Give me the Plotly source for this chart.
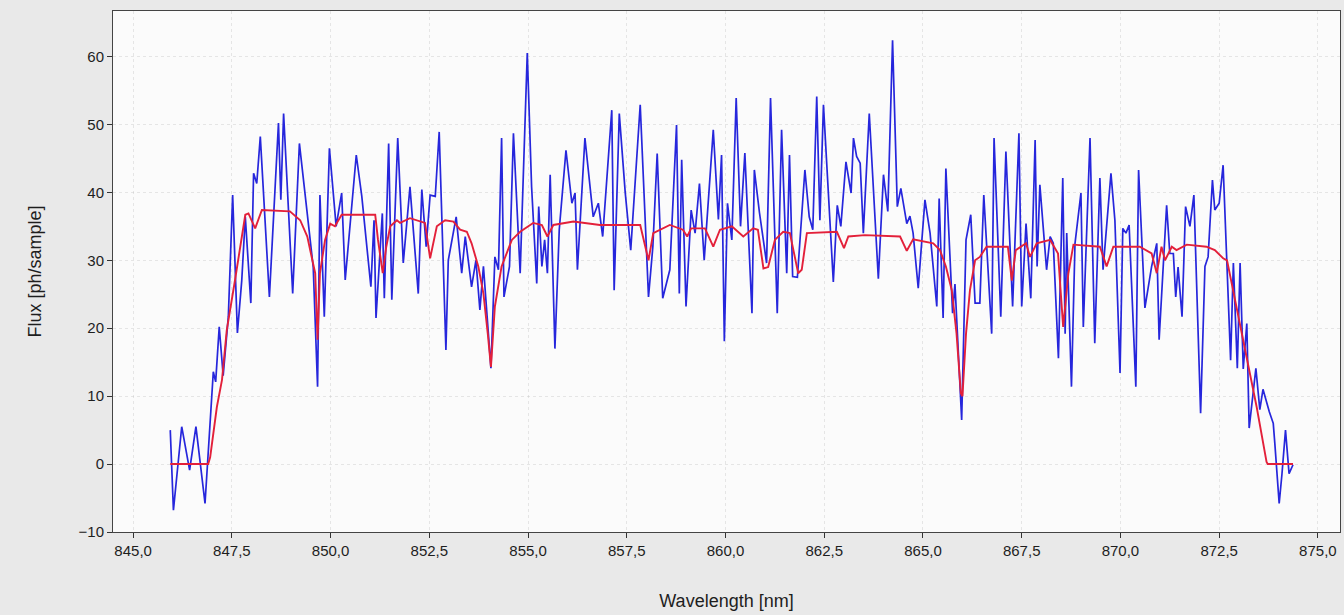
import plotly.graph_objects as go

# Observed spectrum (blue)
obs_wl = [845.94, 846.02, 846.23, 846.43, 846.59, 846.82, 847.03, 847.09, 847.18, 847.28,
          847.41, 847.52, 847.64, 847.75, 847.84, 847.98, 848.05, 848.13, 848.22, 848.45,
          848.68, 848.74, 848.81, 849.04, 849.21, 849.56, 849.67, 849.73, 849.84, 849.97,
          850.14, 850.28, 850.37, 850.65, 850.79, 851.02, 851.10, 851.15, 851.31, 851.36,
          851.47, 851.55, 851.70, 851.84, 852.01, 852.22, 852.31, 852.42, 852.52, 852.65,
          852.75, 852.92, 852.98, 853.18, 853.32, 853.41, 853.57, 853.68, 853.78, 853.87,
          854.06, 854.16, 854.25, 854.33, 854.39, 854.53, 854.63, 854.80, 854.98, 855.09,
          855.22, 855.27, 855.35, 855.42, 855.49, 855.56, 855.68, 855.79, 855.96, 856.11,
          856.19, 856.25, 856.44, 856.65, 856.78, 856.89, 857.12, 857.18, 857.31, 857.46,
          857.60, 857.84, 858.05, 858.16, 858.27, 858.41, 858.59, 858.76, 858.83, 858.89,
          859.00, 859.13, 859.23, 859.34, 859.46, 859.69, 859.82, 859.90, 859.97, 860.05,
          860.16, 860.27, 860.38, 860.49, 860.67, 860.73, 860.86, 861.04, 861.14, 861.31,
          861.42, 861.55, 861.62, 861.70, 861.82, 862.01, 862.12, 862.21, 862.31, 862.39,
          862.48, 862.73, 862.83, 862.92, 863.05, 863.18, 863.24, 863.32, 863.41, 863.49,
          863.64, 863.87, 864.00, 864.11, 864.23, 864.35, 864.44, 864.59, 864.67, 864.75,
          864.88, 865.05, 865.18, 865.35, 865.41, 865.51, 865.58, 865.75, 865.81, 865.98,
          866.09, 866.21, 866.32, 866.44, 866.54, 866.74, 866.80, 866.97, 867.10, 867.27,
          867.43, 867.50, 867.61, 867.73, 867.84, 867.89, 867.96, 868.13, 868.22, 868.30,
          868.43, 868.54, 868.60, 868.64, 868.76, 868.85, 869.00, 869.06, 869.23, 869.35,
          869.48, 869.56, 869.76, 869.86, 869.99, 870.06, 870.14, 870.22, 870.39, 870.46,
          870.62, 870.79, 870.92, 870.98, 871.17, 871.25, 871.34, 871.40, 871.46, 871.56,
          871.65, 871.76, 871.86, 872.03, 872.14, 872.22, 872.33, 872.39, 872.50, 872.60,
          872.79, 872.86, 872.96, 873.03, 873.11, 873.20, 873.26, 873.43, 873.53, 873.61,
          873.77, 873.87, 873.91, 874.02, 874.09, 874.18, 874.27, 874.37]
obs_flux = [5.0, -6.8, 5.5, -0.9, 5.5, -5.8, 13.6, 12.1, 20.2, 13.0,
            21.7, 39.6, 19.3, 27.0, 36.4, 23.7, 42.8, 41.3, 48.2, 24.6,
            50.2, 38.9, 51.6, 25.1, 47.2, 29.0, 11.4, 39.6, 21.7, 46.5,
            35.0, 39.9, 27.1, 45.5, 39.4, 26.1, 35.9, 21.5, 36.9, 24.4,
            47.2, 24.2, 48.0, 29.6, 40.8, 25.1, 40.4, 32.0, 39.6, 39.4,
            48.9, 16.8, 30.0, 36.4, 28.1, 33.5, 26.1, 30.0, 22.7, 29.1,
            14.1, 30.5, 28.6, 48.0, 24.6, 29.1, 48.7, 28.1, 60.5, 40.8,
            26.6, 37.9, 29.1, 33.0, 28.1, 42.6, 17.0, 34.5, 46.2, 38.4,
            39.9, 28.6, 48.0, 36.4, 38.4, 33.5, 52.1, 25.6, 51.6, 40.0,
            31.5, 52.9, 24.6, 32.0, 45.7, 24.4, 28.6, 49.9, 25.1, 44.8,
            23.2, 37.4, 34.0, 41.3, 30.0, 49.2, 36.0, 45.5, 18.1, 38.4,
            33.0, 53.9, 35.0, 45.8, 22.2, 43.3, 37.0, 29.6, 53.9, 22.2,
            49.2, 28.1, 45.5, 27.6, 27.5, 43.3, 36.4, 34.5, 54.1, 35.9,
            52.9, 26.8, 38.1, 35.0, 44.5, 39.9, 48.0, 45.3, 44.3, 34.0,
            51.6, 27.3, 42.6, 37.2, 62.4, 37.9, 40.6, 35.4, 36.5, 34.0,
            25.9, 38.9, 34.0, 23.2, 39.1, 21.5, 43.5, 22.2, 26.5, 6.5,
            33.0, 36.7, 23.7, 23.7, 39.6, 19.2, 48.0, 21.7, 46.0, 23.2,
            48.7, 23.2, 35.4, 24.4, 47.7, 29.1, 41.1, 28.6, 33.5, 32.5,
            15.6, 42.1, 19.2, 34.0, 11.4, 32.5, 39.9, 20.2, 48.0, 17.8,
            42.1, 28.6, 42.8, 35.9, 13.4, 34.7, 34.0, 35.2, 11.4, 43.3,
            23.0, 29.1, 32.5, 18.3, 38.1, 31.0, 31.0, 24.6, 29.0, 21.7,
            37.9, 35.0, 39.6, 7.5, 29.1, 30.5, 41.8, 37.4, 38.4, 44.0,
            15.3, 29.6, 14.1, 29.6, 14.0, 20.7, 5.3, 14.1, 8.0, 11.0,
            7.7, 6.0, 3.0, -5.8, -1.5, 5.0, -1.4, -0.1]

# Model spectrum (red)
mod_wl = [845.94, 846.90, 846.95, 847.12, 847.25, 847.37, 847.58, 847.84, 847.92, 848.09,
          848.26, 848.97, 849.23, 849.41, 849.52, 849.61, 849.67, 849.73, 849.86, 849.99,
          850.11, 850.28, 851.13, 851.20, 851.32, 851.41, 851.51, 851.68, 851.76, 852.01,
          852.39, 852.52, 852.69, 852.90, 853.11, 853.28, 853.45, 853.57, 853.74, 853.87,
          853.98, 854.06, 854.16, 854.33, 854.59, 854.80, 855.13, 855.35, 855.49, 855.64,
          856.15, 856.82, 857.84, 858.05, 858.17, 858.59, 858.92, 859.03, 859.13, 859.48,
          859.69, 859.86, 860.16, 860.45, 860.70, 860.82, 860.96, 861.08, 861.25, 861.46,
          861.63, 861.84, 861.93, 862.06, 862.82, 863.00, 863.11, 863.53, 864.42, 864.59,
          864.75, 865.26, 865.43, 865.58, 865.73, 865.85, 865.96, 866.00, 866.09, 866.19,
          866.32, 866.44, 866.61, 866.95, 867.15, 867.25, 867.35, 867.61, 867.71, 867.88,
          868.22, 868.42, 868.55, 868.68, 868.81, 869.48, 869.65, 869.82, 870.49, 870.79,
          870.92, 871.04, 871.13, 871.30, 871.42, 871.68, 872.18, 872.39, 872.60, 872.70,
          872.94, 873.20, 873.45, 873.70, 873.73, 874.37]
mod_flux = [0.0, 0.0, 1.0, 8.4, 12.4, 19.7, 27.1, 36.7, 36.9, 34.7,
            37.4, 37.2, 35.9, 33.5, 30.5, 28.1, 18.3, 28.1, 33.0, 35.4,
            35.0, 36.7, 36.7, 33.0, 28.1, 32.0, 35.0, 35.9, 35.5, 36.2,
            35.5, 30.3, 35.0, 35.9, 35.7, 34.5, 34.2, 32.5, 29.1, 25.1,
            19.2, 14.3, 23.2, 29.1, 33.0, 34.2, 35.5, 35.2, 33.5, 35.2,
            35.7, 35.2, 35.2, 30.0, 34.0, 35.2, 34.5, 33.5, 34.7, 34.7,
            32.0, 34.5, 35.0, 33.5, 34.7, 34.5, 28.8, 29.0, 33.0, 34.2,
            34.0, 28.1, 28.6, 34.0, 34.2, 31.8, 33.5, 33.7, 33.5, 31.4,
            33.1, 32.5, 31.5, 29.1, 25.6, 19.2, 10.4, 10.0, 19.2, 25.6,
            30.0, 30.5, 32.0, 32.0, 32.0, 27.0, 31.5, 32.5, 30.5, 32.5,
            33.0, 31.0, 20.2, 28.0, 32.3, 32.0, 29.1, 32.0, 32.0, 31.0,
            28.1, 32.0, 30.0, 32.0, 31.5, 32.3, 32.0, 31.5, 30.3, 30.0,
            23.2, 15.8, 8.4, 0.3, 0.0, 0.0]

x_ticks = [845.0, 847.5, 850.0, 852.5, 855.0, 857.5, 860.0, 862.5, 865.0, 867.5, 870.0, 872.5, 875.0]
y_ticks = [-10, 0, 10, 20, 30, 40, 50, 60]

fig = go.Figure()
fig.add_trace(go.Scatter(x=obs_wl, y=obs_flux, mode="lines",
                         line=dict(color="#2626dc", width=1.7), showlegend=False))
fig.add_trace(go.Scatter(x=mod_wl, y=mod_flux, mode="lines",
                         line=dict(color="#e3203a", width=1.9), showlegend=False))

axis_font = dict(family="Liberation Sans, Arial, sans-serif", size=15, color="#1e1e1e")
fig.update_layout(
    width=1344, height=615,
    margin=dict(l=113, r=4, t=11, b=83),
    paper_bgcolor="#e9e9e9",
    plot_bgcolor="#fbfbfb",
    separators=",.",
    font=axis_font,
    xaxis=dict(range=[844.49, 875.56], tickvals=x_ticks, tickformat=".1f",
               ticks="outside", ticklen=5, tickcolor="#333333",
               showline=True, linecolor="#444444", linewidth=1, mirror=True,
               showgrid=True, gridcolor="rgba(190,190,190,0.35)", griddash="dot",
               zeroline=False,
               title=dict(text="Wavelength [nm]", font=dict(size=18), standoff=36)),
    yaxis=dict(range=[-10, 66.7], tickvals=y_ticks,
               ticks="outside", ticklen=5, tickcolor="#333333",
               showline=True, linecolor="#444444", linewidth=1, mirror=True,
               showgrid=True, gridcolor="rgba(190,190,190,0.35)", griddash="dot",
               zeroline=False,
               title=dict(text="Flux [ph/sample]", font=dict(size=18), standoff=32)),
)

page_fix = ("document.body.style.margin='0';"
            "document.body.style.background='#e9e9e9';"
            "document.documentElement.style.overflow='hidden';")
fig.write_html("out.html", post_script=page_fix, config={"displayModeBar": False})
